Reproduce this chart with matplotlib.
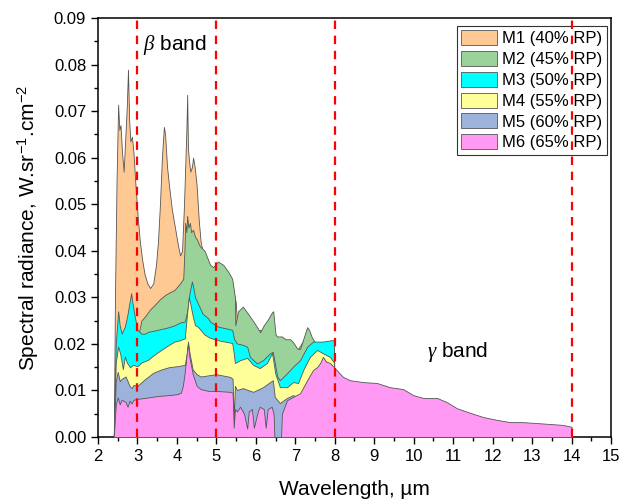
import numpy as np
import matplotlib.pyplot as plt
from matplotlib.ticker import MultipleLocator, FormatStrFormatter

plt.rcParams['font.family'] = ['Liberation Sans', 'DejaVu Sans']
plt.rcParams['mathtext.fontset'] = 'custom'
plt.rcParams['mathtext.rm'] = 'Liberation Sans'
plt.rcParams['mathtext.it'] = 'Liberation Serif:italic'

# ---- data (wavelength in um, radiance in W/sr/cm2)
m1_x = [2.40, 2.43, 2.47, 2.51, 2.54, 2.57, 2.61, 2.65, 2.69, 2.73, 2.76, 2.79,
        2.82, 2.86, 2.90, 2.95, 3.00, 3.06, 3.12, 3.18, 3.25, 3.32, 3.40, 3.47,
        3.52, 3.57, 3.62, 3.67, 3.70, 3.75, 3.80, 3.87, 3.95, 4.03, 4.08, 4.13,
        4.18, 4.21, 4.24, 4.26, 4.28, 4.31, 4.34, 4.38, 4.41, 4.45, 4.50, 4.55,
        4.60, 4.65, 4.80, 5.00, 5.20, 5.40, 5.46, 5.49, 5.52, 5.60, 5.80, 6.00,
        6.20, 6.40, 6.50, 6.60, 6.70, 7.00, 7.30, 7.50, 7.98, 8.00]
m1_y = [0.0, 0.030, 0.055, 0.0714, 0.066, 0.067, 0.061, 0.057, 0.064, 0.071,
        0.0789, 0.068, 0.0635, 0.0645, 0.061, 0.054, 0.048, 0.042, 0.038, 0.035,
        0.033, 0.032, 0.033, 0.037, 0.042, 0.050, 0.060, 0.0666, 0.065, 0.058,
        0.054, 0.049, 0.045, 0.041, 0.039, 0.040, 0.050, 0.058, 0.066, 0.0735,
        0.062, 0.059, 0.057, 0.058, 0.060, 0.058, 0.054, 0.047, 0.042, 0.040,
        0.036, 0.036, 0.035, 0.033, 0.030, 0.029, 0.025, 0.026, 0.025, 0.023,
        0.023, 0.026, 0.020, 0.020, 0.019, 0.018, 0.022, 0.019, 0.019, 0.0]

m2_x = [2.40, 3.00, 3.10, 3.20, 3.32, 3.45, 3.57, 3.70, 3.80, 3.94, 4.08, 4.16,
        4.19, 4.21, 4.24, 4.26, 4.29, 4.33, 4.36, 4.41, 4.46, 4.51, 4.58, 4.70,
        4.84, 4.92, 5.04, 5.17, 5.30, 5.40, 5.47, 5.48, 5.55, 5.67, 5.80, 5.90,
        6.00, 6.11, 6.20, 6.31, 6.41, 6.44, 6.50, 6.54, 6.66, 6.75, 6.87, 6.94,
        7.05, 7.12, 7.20, 7.30, 7.35, 7.42, 7.50, 7.98, 8.00]
m2_y = [0.0, 0.021, 0.025, 0.026, 0.0274, 0.0285, 0.0296, 0.0305, 0.031, 0.0316,
        0.033, 0.034, 0.040, 0.046, 0.044, 0.0475, 0.045, 0.046, 0.044, 0.0445,
        0.043, 0.0424, 0.041, 0.040, 0.037, 0.0365, 0.0377, 0.037, 0.0355, 0.034,
        0.030, 0.024, 0.027, 0.028, 0.0265, 0.0253, 0.024, 0.0225, 0.024, 0.0253,
        0.0268, 0.027, 0.022, 0.0216, 0.0216, 0.021, 0.021, 0.0204, 0.019, 0.0189,
        0.021, 0.0236, 0.023, 0.0214, 0.0203, 0.0203, 0.0]

m3_x = [2.40, 2.45, 2.51, 2.55, 2.60, 2.64, 2.68, 2.74, 2.80, 2.84, 2.87, 2.93,
        3.00, 3.10, 3.19, 3.27, 3.40, 3.60, 3.80, 3.94, 4.08, 4.20, 4.26, 4.32,
        4.38, 4.41, 4.46, 4.53, 4.65, 4.79, 4.84, 5.04, 5.27, 5.40, 5.45, 5.52,
        5.67, 5.78, 5.85, 6.03, 6.18, 6.36, 6.43, 6.50, 6.54, 6.61, 6.79, 6.94,
        7.12, 7.30, 7.45, 7.70, 7.92, 7.98, 8.00]
m3_y = [0.0, 0.020, 0.027, 0.024, 0.0222, 0.023, 0.0237, 0.026, 0.029, 0.0309,
        0.029, 0.0259, 0.023, 0.0222, 0.0222, 0.0226, 0.0228, 0.0232, 0.0236,
        0.024, 0.0246, 0.0248, 0.027, 0.031, 0.0334, 0.0323, 0.030, 0.0287,
        0.0265, 0.0255, 0.0248, 0.0237, 0.0233, 0.023, 0.021, 0.0201, 0.0198,
        0.0194, 0.0172, 0.0158, 0.0165, 0.018, 0.0183, 0.015, 0.013, 0.0122,
        0.0137, 0.0151, 0.0165, 0.0194, 0.0205, 0.0205, 0.0208, 0.0208, 0.0]

m4_x = [2.40, 2.45, 2.51, 2.56, 2.63, 2.68, 2.73, 2.81, 2.89, 3.00, 3.10, 3.27,
        3.40, 3.60, 3.80, 3.94, 4.08, 4.20, 4.24, 4.30, 4.33, 4.40, 4.46, 4.53,
        4.60, 4.70, 4.84, 5.04, 5.27, 5.40, 5.44, 5.47, 5.60, 5.78, 5.93, 6.10,
        6.28, 6.41, 6.45, 6.49, 6.61, 6.79, 6.94, 7.07, 7.20, 7.37, 7.55, 7.70,
        7.88, 7.98, 8.00]
m4_y = [0.0, 0.016, 0.0194, 0.018, 0.0146, 0.0173, 0.016, 0.015, 0.0155, 0.0152,
        0.016, 0.0166, 0.0175, 0.0187, 0.0198, 0.0205, 0.0208, 0.0212, 0.025,
        0.030, 0.029, 0.026, 0.024, 0.0237, 0.023, 0.022, 0.0213, 0.0208, 0.0204,
        0.0202, 0.018, 0.0159, 0.0165, 0.017, 0.0155, 0.0148, 0.0159, 0.018,
        0.016, 0.0137, 0.0107, 0.0107, 0.0118, 0.0116, 0.0144, 0.0172, 0.0187,
        0.018, 0.0172, 0.016, 0.0]

m5_x = [2.40, 2.45, 2.50, 2.55, 2.60, 2.70, 2.80, 2.85, 2.90, 3.00, 3.20, 3.40,
        3.60, 3.80, 4.00, 4.20, 4.25, 4.28, 4.32, 4.40, 4.50, 4.60, 4.84, 5.00,
        5.35, 5.41, 5.44, 5.47, 5.52, 5.67, 5.93, 6.18, 6.36, 6.43, 6.48, 6.61,
        6.79, 6.94, 7.00, 7.12, 7.30, 7.45, 7.63, 7.70, 7.88, 7.98, 8.00]
m5_y = [0.0, 0.012, 0.014, 0.012, 0.0125, 0.013, 0.011, 0.0105, 0.0112, 0.011,
        0.0125, 0.0138, 0.0145, 0.015, 0.0152, 0.0155, 0.018, 0.0205, 0.018,
        0.0145, 0.0135, 0.013, 0.0133, 0.0135, 0.0129, 0.0125, 0.004, 0.011,
        0.0101, 0.0105, 0.0097, 0.0107, 0.0118, 0.0122, 0.0086, 0.0073, 0.0084,
        0.009, 0.0088, 0.009, 0.012, 0.014, 0.0155, 0.0168, 0.0155, 0.0145, 0.0]

m6_x = [2.40, 2.45, 2.50, 2.55, 2.60, 2.70, 2.75, 2.80, 2.85, 2.90, 3.00, 3.20,
        3.50, 3.80, 4.00, 4.10, 4.15, 4.20, 4.25, 4.28, 4.32, 4.40, 4.50, 4.60,
        4.80, 5.00, 5.35, 5.41, 5.44, 5.47, 5.52, 5.60, 5.70, 5.78, 5.82, 5.90,
        5.95, 6.05, 6.10, 6.20, 6.25, 6.30, 6.40, 6.45, 6.47, 6.64, 6.66, 6.79,
        6.94, 7.12, 7.30, 7.45, 7.55, 7.63, 7.70, 7.78, 7.88, 8.00, 8.21, 8.39,
        8.72, 9.07, 9.40, 9.73, 9.99, 10.24, 10.59, 10.84, 11.09, 11.43, 11.76,
        12.10, 12.44, 12.77, 13.12, 13.45, 13.78, 14.00, 14.01]
m6_y = [0.0, 0.007, 0.0085, 0.007, 0.008, 0.0075, 0.0065, 0.0078, 0.0072, 0.008,
        0.0082, 0.0084, 0.0088, 0.009, 0.0092, 0.0095, 0.011, 0.014, 0.018, 0.020,
        0.017, 0.0135, 0.011, 0.0103, 0.0099, 0.0099, 0.0097, 0.0095, 0.002,
        0.006, 0.0055, 0.0065, 0.005, 0.0018, 0.0055, 0.006, 0.002, 0.0055,
        0.0065, 0.006, 0.002, 0.006, 0.0065, 0.005, 0.0, 0.0, 0.005, 0.0079,
        0.0086, 0.0094, 0.0122, 0.0144, 0.0150, 0.0159, 0.0172, 0.0162, 0.0159,
        0.0148, 0.0129, 0.0122, 0.0118, 0.0116, 0.0107, 0.0103, 0.009, 0.0084,
        0.0084, 0.0075, 0.0062, 0.0052, 0.0043, 0.0037, 0.0032, 0.0032, 0.003,
        0.0028, 0.0026, 0.0022, 0.0]

labels = ['M1 (40% RP)', 'M2 (45% RP)', 'M3 (50% RP)',
          'M4 (55% RP)', 'M5 (60% RP)', 'M6 (65% RP)']
colors = ['#FFC994', '#99D399', '#00FFFF', '#FFFF99', '#9DB3DC', '#FF99F3']
band_edges = [3, 5, 8, 14]

series = [(m1_x, m1_y), (m2_x, m2_y), (m3_x, m3_y),
          (m4_x, m4_y), (m5_x, m5_y), (m6_x, m6_y)]

fig = plt.figure(figsize=(6.23, 5.04), dpi=100)
ax = fig.add_axes([0.1573, 0.1329, 0.8234, 0.8314])

# later series drawn on top of earlier ones
for i, (xs, ys) in enumerate(series):
    ax.fill_between(xs, ys, 0, facecolor=colors[i], edgecolor='#555555',
                    linewidth=0.6, label=labels[i], zorder=2 + i)

for xb in band_edges:
    ax.axvline(xb, color='#FF0000', lw=1.6, ls=(0, (3.8, 3.0)), zorder=10)

ax.text(3.14, 0.0842, r'$\beta$ band', fontsize=15, va='center', ha='left')
ax.text(10.34, 0.0183, r'$\gamma$ band', fontsize=15, va='center', ha='left')

ax.set_xlim(2, 15)
ax.set_ylim(0, 0.09)
ax.xaxis.set_major_locator(MultipleLocator(1))
ax.xaxis.set_minor_locator(MultipleLocator(0.5))
ax.yaxis.set_major_locator(MultipleLocator(0.01))
ax.yaxis.set_minor_locator(MultipleLocator(0.005))
ax.yaxis.set_major_formatter(FormatStrFormatter('%.2f'))
ax.tick_params(which='major', direction='out', length=5, width=1, labelsize=12)
ax.tick_params(which='minor', direction='out', length=3, width=1)
for sp in ax.spines.values():
    sp.set_linewidth(1.1)

ax.set_xlabel('Wavelength, µm', fontsize=15, labelpad=12)
ax.set_ylabel(r'Spectral radiance, W.sr$^{\mathregular{-1}}$.cm$^{\mathregular{-2}}$',
              fontsize=15, labelpad=9)

leg = ax.legend(loc='upper right', bbox_to_anchor=(0.992, 0.981), borderaxespad=0,
                fontsize=12, fancybox=False, framealpha=1, edgecolor='#333333',
                handlelength=2.2, handleheight=1.0, handletextpad=0.3,
                labelspacing=0.28, borderpad=0.25)
leg.get_frame().set_linewidth(0.8)

fig.savefig('out.png', dpi=100)
